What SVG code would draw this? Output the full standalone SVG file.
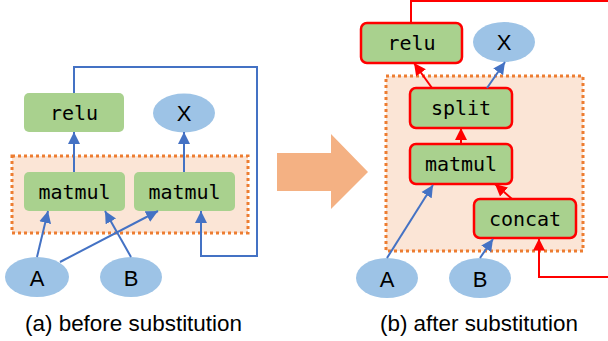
<svg xmlns="http://www.w3.org/2000/svg" width="608" height="341" viewBox="0 0 608 341">
<defs>
<style>
.op{fill:#A9D18E}
.opr{fill:#A9D18E;stroke:#FF0000;stroke-width:2.5}
.io{fill:#9DC3E6}
.grp{fill:#FBE5D6;stroke:#ED7D31;stroke-width:3;stroke-dasharray:3 3}
.mono{font-family:"DejaVu Sans Mono",monospace;font-size:20px;fill:#000;text-anchor:middle;dominant-baseline:central}
.sans{font-family:"Liberation Sans",Arial,sans-serif;font-size:22px;fill:#000;text-anchor:middle;dominant-baseline:central}
.cap{font-family:"Liberation Sans",Arial,sans-serif;font-size:22px;fill:#000}
.eb{fill:none;stroke:#4472C4;stroke-width:2;marker-end:url(#ab)}
.er{fill:none;stroke:#FF0000;stroke-width:2;marker-end:url(#ar)}
.ern{fill:none;stroke:#FF0000;stroke-width:2}
</style>
<marker id="ab" markerUnits="userSpaceOnUse" markerWidth="13" markerHeight="13" viewBox="0 0 13 13" refX="12" refY="6.5" orient="auto"><path d="M0,0.5 L12,6.5 L0,12.5 Z" fill="#4472C4"/></marker>
<marker id="ar" markerUnits="userSpaceOnUse" markerWidth="13" markerHeight="13" viewBox="0 0 13 13" refX="12" refY="6.5" orient="auto"><path d="M0,0.5 L12,6.5 L0,12.5 Z" fill="#FF0000"/></marker>
</defs>
<rect width="608" height="341" fill="#fff"/>

<!-- panel a -->
<g id="a-group"><rect class="grp" x="12" y="156" width="236" height="77"/></g>
<g id="a-relu"><rect class="op" x="24" y="93" width="100" height="39" rx="5"/><text class="mono" x="74" y="112.5">relu</text></g>
<g id="a-X"><ellipse class="io" cx="184" cy="113" rx="31" ry="19.5"/><text class="sans" x="184" y="113">X</text></g>
<g id="a-matmul1"><rect class="op" x="24" y="172" width="101" height="39" rx="5"/><text class="mono" x="74.5" y="191.5">matmul</text></g>
<g id="a-matmul2"><rect class="op" x="134" y="172" width="101" height="39" rx="5"/><text class="mono" x="184.5" y="191.5">matmul</text></g>
<g id="a-A"><ellipse class="io" cx="37" cy="277" rx="32" ry="20"/><text class="sans" x="37" y="278">A</text></g>
<g id="a-B"><ellipse class="io" cx="131" cy="277" rx="31" ry="20"/><text class="sans" x="131" y="278">B</text></g>

<!-- arrow between panels -->
<g id="transform-arrow"><polygon points="277,153 331,153 331,134 368,172 331,209 331,191 277,191" fill="#F4B183"/></g>

<!-- panel b -->
<g id="b-group"><rect class="grp" x="386" y="76" width="197" height="175"/></g>
<g id="b-relu"><rect class="opr" x="361" y="23" width="101" height="40" rx="6"/><text class="mono" x="411.5" y="43">relu</text></g>
<g id="b-X"><ellipse class="io" cx="504" cy="42" rx="31" ry="20"/><text class="sans" x="504" y="42">X</text></g>
<g id="b-split"><rect class="opr" x="410" y="88" width="102" height="40" rx="6"/><text class="mono" x="461" y="108">split</text></g>
<g id="b-matmul"><rect class="opr" x="410" y="144" width="102" height="40" rx="6"/><text class="mono" x="461" y="164">matmul</text></g>
<g id="b-concat"><rect class="opr" x="474" y="199" width="102" height="39" rx="6"/><text class="mono" x="525" y="218.5">concat</text></g>
<g id="b-A"><ellipse class="io" cx="387" cy="278" rx="31" ry="20"/><text class="sans" x="387" y="279">A</text></g>
<g id="b-B"><ellipse class="io" cx="480" cy="278" rx="31" ry="20"/><text class="sans" x="480" y="279">B</text></g>

<g id="connectors">
<line class="eb" x1="74" y1="172" x2="74" y2="132"/>
<line class="eb" x1="184" y1="172" x2="184" y2="132"/>
<line class="eb" x1="37" y1="257" x2="48" y2="211"/>
<line class="eb" x1="60" y1="262" x2="158" y2="211"/>
<line class="eb" x1="131" y1="257" x2="105" y2="211"/>
<path class="eb" d="M74,93 V67 H257 V256 H201 V211"/>

<line class="er" x1="432" y1="88" x2="414" y2="63"/>
<line class="eb" x1="487" y1="88" x2="505" y2="62"/>
<line class="er" x1="461" y1="144" x2="461" y2="128"/>
<line class="er" x1="512" y1="199" x2="495" y2="184"/>
<line class="eb" x1="387" y1="258" x2="433" y2="185"/>
<line class="eb" x1="480" y1="258" x2="493" y2="239"/>
<path class="ern" d="M411,23 V1 H608"/>
<path class="er" d="M608,277 H539 V238.5"/>
</g>

<text class="cap" x="25" y="331" textLength="217" lengthAdjust="spacingAndGlyphs">(a) before substitution</text>
<text class="cap" x="380" y="331" textLength="198" lengthAdjust="spacingAndGlyphs">(b) after substitution</text>
</svg>
